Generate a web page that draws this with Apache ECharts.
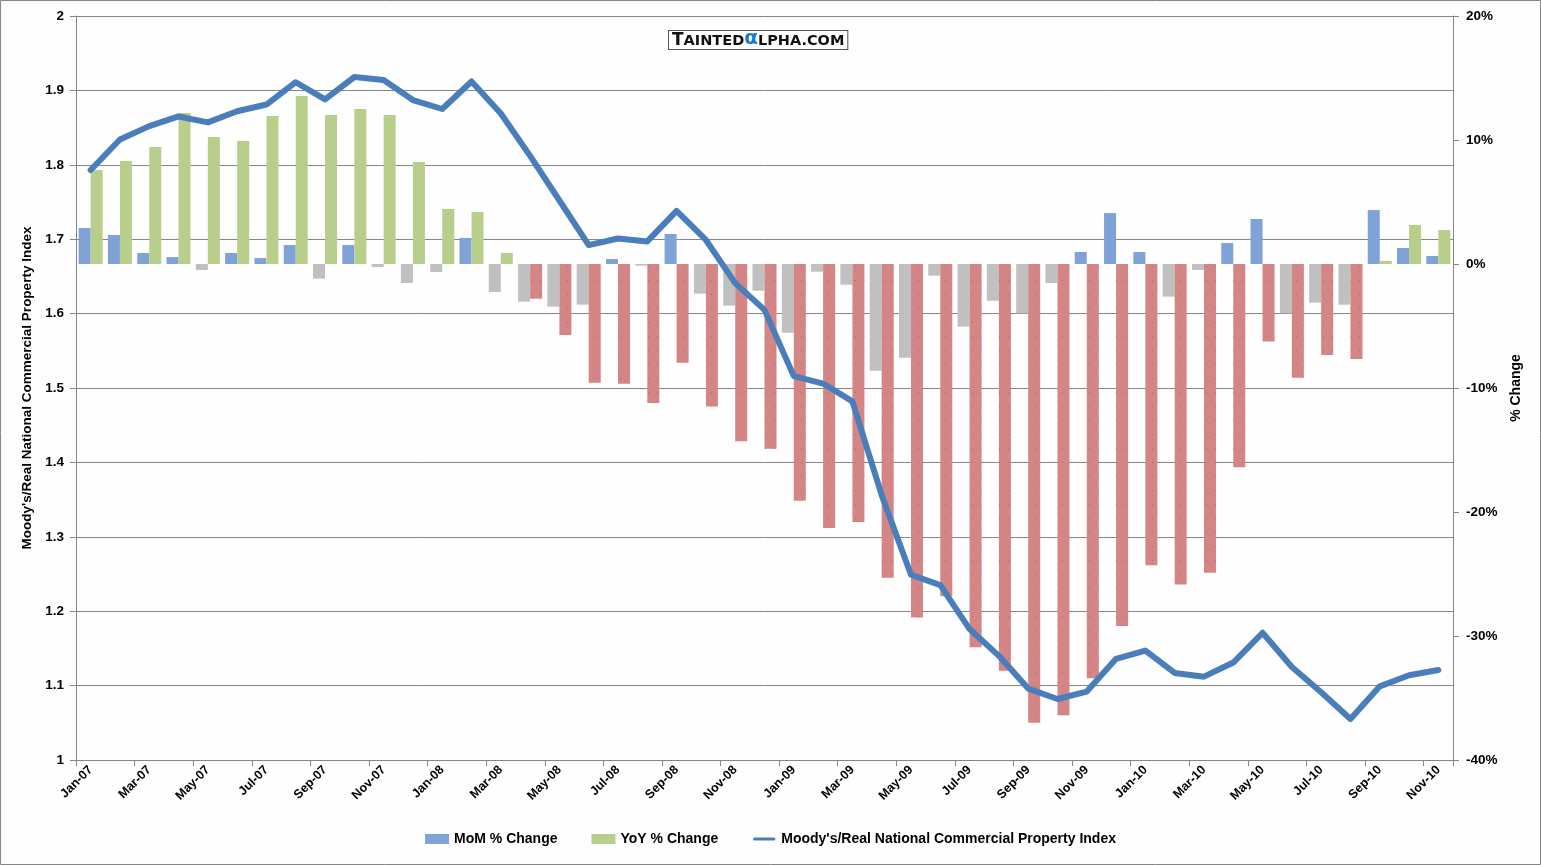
<!DOCTYPE html>
<html>
<head>
<meta charset="utf-8">
<script src="https://cdn.jsdelivr.net/npm/echarts@6/dist/echarts.min.js"></script>
<style>
html,body{margin:0;padding:0;background:#fdfefd;}
#main{width:1541px;height:865px;}
</style>
</head>
<body>
<div id="main"></div>
<script>
var months = ['Jan-07','Feb-07','Mar-07','Apr-07','May-07','Jun-07','Jul-07','Aug-07','Sep-07','Oct-07','Nov-07','Dec-07',
'Jan-08','Feb-08','Mar-08','Apr-08','May-08','Jun-08','Jul-08','Aug-08','Sep-08','Oct-08','Nov-08','Dec-08',
'Jan-09','Feb-09','Mar-09','Apr-09','May-09','Jun-09','Jul-09','Aug-09','Sep-09','Oct-09','Nov-09','Dec-09',
'Jan-10','Feb-10','Mar-10','Apr-10','May-10','Jun-10','Jul-10','Aug-10','Sep-10','Oct-10','Nov-10'];

var momChange = [2.9, 2.34, 0.89, 0.56, -0.48, 0.89, 0.48, 1.53, -1.18, 1.53, -0.24, -1.53,
-0.65, 2.1, -2.26, -3.04, -3.44, -3.28, 0.4, -0.13, 2.42, -2.39, -3.36, -2.15,
-5.54, -0.62, -1.67, -8.6, -7.56, -0.94, -5.05, -2.96, -3.98, -1.53, 0.97, 4.11,
0.97, -2.63, -0.48, 1.69, 3.63, -3.98, -3.12, -3.28, 4.35, 1.29, 0.65];

var yoyChange = [7.58, 8.31, 9.44, 12.18, 10.24, 9.92, 11.94, 13.55, 12.02, 12.5, 12.02, 8.23,
4.44, 4.19, 0.89, -2.8, -5.73, -9.57, -9.65, -11.2, -7.96, -11.5, -14.3, -14.9,
-19.1, -21.3, -20.8, -25.3, -28.5, -26.8, -30.9, -32.8, -37.0, -36.4, -33.4, -29.2,
-24.3, -25.85, -24.9, -16.4, -6.26, -9.17, -7.34, -7.66, 0.24, 3.15, 2.74];

var propertyIndex = [1.793, 1.834, 1.852, 1.865, 1.857, 1.872, 1.881, 1.911, 1.888, 1.918, 1.914, 1.887,
1.875, 1.912, 1.869, 1.812, 1.752, 1.692, 1.701, 1.697, 1.738, 1.699, 1.641, 1.605,
1.516, 1.506, 1.482, 1.356, 1.249, 1.235, 1.176, 1.140, 1.096, 1.082, 1.092, 1.136,
1.147, 1.117, 1.112, 1.131, 1.171, 1.125, 1.091, 1.055, 1.099, 1.114, 1.121];

var FONT = '"Liberation Sans", Arial, sans-serif';
var C_BLUE = '#7fa3d7', C_GRAY = '#c0c0c0', C_GREEN = '#b8cf8c', C_RED = '#d48585', C_LINE = '#4a7ebb';

var redDecal = {
  symbol: 'rect',
  symbolSize: 1,
  color: 'rgba(150,80,85,0.6)',
  dashArrayX: [1, 8],
  dashArrayY: [1, 13],
  rotation: 0
};

var momData = momChange.map(function (v) {
  return v < 0 ? { value: v, itemStyle: { color: C_GRAY } } : v;
});
var yoyData = yoyChange.map(function (v) {
  return v < 0 ? { value: v, itemStyle: { color: C_RED, decal: redDecal } } : v;
});

var chart = echarts.init(document.getElementById('main'), null, { renderer: 'canvas' });
var option = {
  backgroundColor: '#fdfefd',
  animation: false,
  textStyle: { fontFamily: FONT },
  grid: { left: 76, right: 88, top: 16, bottom: 105, containLabel: false },
  legend: {
    bottom: 14,
    left: 'center',
    itemWidth: 24,
    itemHeight: 10,
    itemGap: 34,
    textStyle: { fontFamily: FONT, fontWeight: 'bold', fontSize: 14, color: '#000' },
    data: [
      { name: 'MoM % Change', icon: 'rect' },
      { name: 'YoY % Change', icon: 'rect' },
      { name: "Moody's/Real National Commercial Property Index",
        icon: 'path://M0,0 M30,10 M3,3 L27,3 A2,2 0 0 1 27,7 L3,7 A2,2 0 0 1 3,3 Z' }
    ]
  },
  graphic: [
    {
      type: 'rect', silent: true, z: -1,
      shape: { x: 0.5, y: 0.5, width: 1540, height: 864 },
      style: { fill: 'none', stroke: '#868686', lineWidth: 1 }
    },
    {
      type: 'text', left: 668, top: 29, z: 100,
      style: {
        text: '{a|T}{b|AINTED}{c|α}{b|LPHA.COM}',
        backgroundColor: '#ffffff',
        borderColor: '#555555',
        borderWidth: 1,
        padding: [1, 3, 0, 3],
        rich: {
          a: { fontFamily: '"DejaVu Sans", sans-serif', fontWeight: 'bold', fontSize: 17, fill: '#111', lineHeight: 17, verticalAlign: 'bottom' },
          b: { fontFamily: '"DejaVu Sans", sans-serif', fontWeight: 'bold', fontSize: 14.5, fill: '#111', lineHeight: 17, verticalAlign: 'bottom' },
          c: { fontFamily: '"DejaVu Sans", sans-serif', fontWeight: 'bold', fontSize: 20, fill: '#1a7ad0', lineHeight: 17, verticalAlign: 'bottom' }
        }
      }
    }
  ],
  xAxis: {
    type: 'category',
    data: months,
    boundaryGap: true,
    axisLine: { onZero: false, lineStyle: { color: '#868686', width: 1 } },
    axisTick: { show: true, interval: 1, length: 6, lineStyle: { color: '#868686' } },
    axisLabel: {
      interval: 1, rotate: 45, margin: 8,
      fontFamily: FONT, fontWeight: 'bold', fontSize: 12.5, color: '#000'
    },
    splitLine: { show: false }
  },
  yAxis: [
    {
      type: 'value', min: 1, max: 2, interval: 0.1,
      position: 'left',
      name: "Moody's/Real National Commercial Property Index",
      nameLocation: 'middle', nameRotate: 90, nameGap: 42,
      nameTextStyle: { fontFamily: FONT, fontWeight: 'bold', fontSize: 13.5, color: '#000' },
      axisLine: { show: true, lineStyle: { color: '#868686' } },
      axisTick: { show: true, length: 6, lineStyle: { color: '#868686' } },
      axisLabel: { fontFamily: FONT, fontWeight: 'bold', fontSize: 13.5, color: '#000', margin: 12 },
      splitLine: { show: true, lineStyle: { color: '#868686', width: 1 } }
    },
    {
      type: 'value', min: -40, max: 20, interval: 10,
      position: 'right',
      name: '% Change',
      nameLocation: 'middle', nameRotate: 90, nameGap: 56,
      nameTextStyle: { fontFamily: FONT, fontWeight: 'bold', fontSize: 14, color: '#000' },
      axisLine: { show: true, lineStyle: { color: '#868686' } },
      axisTick: { show: true, length: 6, lineStyle: { color: '#868686' } },
      axisLabel: { fontFamily: FONT, fontWeight: 'bold', fontSize: 13.5, color: '#000', margin: 13, formatter: '{value}%' },
      splitLine: { show: false }
    }
  ],
  series: [
    {
      name: 'MoM % Change', type: 'bar', yAxisIndex: 1,
      data: momData,
      itemStyle: { color: C_BLUE },
      barGap: '0%', barCategoryGap: '18%', z: 2
    },
    {
      name: 'YoY % Change', type: 'bar', yAxisIndex: 1,
      data: yoyData,
      itemStyle: { color: C_GREEN },
      barGap: '0%', barCategoryGap: '18%', z: 2
    },
    {
      name: "Moody's/Real National Commercial Property Index", type: 'line', yAxisIndex: 0,
      data: propertyIndex,
      showSymbol: false, symbol: 'none',
      lineStyle: { color: C_LINE, width: 6, cap: 'round', join: 'round' },
      itemStyle: { color: C_LINE },
      z: 5
    }
  ]
};
chart.setOption(option);
</script>
</body>
</html>
